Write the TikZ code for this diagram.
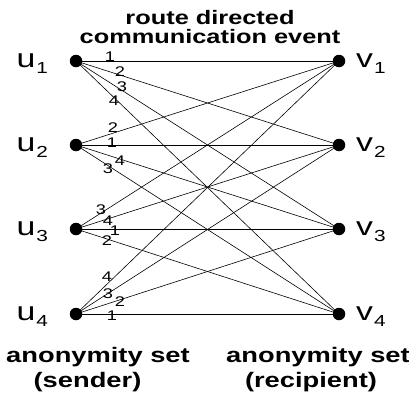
\documentclass[tikz,border=0pt]{standalone}
\usepackage{fontspec}
\setmainfont{Liberation Sans}[FakeStretch=1.3]
\begin{document}
\begin{tikzpicture}[x=1pt,y=-1pt,
  dot/.style={circle,fill=black,inner sep=0pt,minimum size=12.5pt},
  edge/.style={line width=0.6pt},
  elab/.style={inner sep=0pt,font=\fontsize{14}{14}\selectfont},
  vlab/.style={inner sep=0pt,anchor=base west},
  title/.style={inner sep=0pt,font=\bfseries\fontsize{19.5}{19}\selectfont,align=center,anchor=base},
  foot/.style={inner sep=0pt,font=\bfseries\fontsize{21}{25}\selectfont,anchor=base}]
\useasboundingbox (0,0) rectangle (409,397);
\newcommand{\lbl}[2]{{\fontsize{26}{26}\selectfont #1}\kern1pt\raisebox{-6pt}{\fontsize{16}{16}\selectfont #2}}
% vertices
\foreach \i/\y in {1/61,2/145,3/229,4/314}{
  \node[dot] (u\i) at (76,\y) {};
  \node[dot] (v\i) at (339,\y) {};
  \node[vlab] (lu\i) at (16.5,\y+6) {\lbl{u}{\i}};
  \node[vlab] (lv\i) at (356,\y+6) {\lbl{v}{\i}};
}
% edges
\foreach \i in {1,...,4}{
  \foreach \j in {1,...,4}{
    \draw[edge] (u\i.center) -- (v\j.center);
  }
}
% edge labels
\node[elab] (a11) at (110,57) {1};
\node[elab] (a12) at (120,72) {2};
\node[elab] (a13) at (122,87) {3};
\node[elab] (a14) at (114,101) {4};
\node[elab] (a21) at (113,128) {2};
\node[elab] (a22) at (112,143) {1};
\node[elab] (a23) at (120,161) {4};
\node[elab] (a24) at (108,169) {3};
\node[elab] (a31) at (101,210) {3};
\node[elab] (a32) at (108,221) {4};
\node[elab] (a33) at (115,231) {1};
\node[elab] (a34) at (107,241) {2};
\node[elab] (a41) at (107,277) {4};
\node[elab] (a42) at (108,294) {3};
\node[elab] (a43) at (120,302) {2};
\node[elab] (a44) at (112,316) {1};
% titles
\node[title] (t1) at (210,43) {route directed\\communication event};
\node[foot] (s1) at (98,362) {anonymity set};
\node[foot] (s2) at (87.5,387) {(sender)};
\node[foot] (r1) at (318,362) {anonymity set};
\node[foot] (r2) at (311,387) {(recipient)};
\end{tikzpicture}
\end{document}
